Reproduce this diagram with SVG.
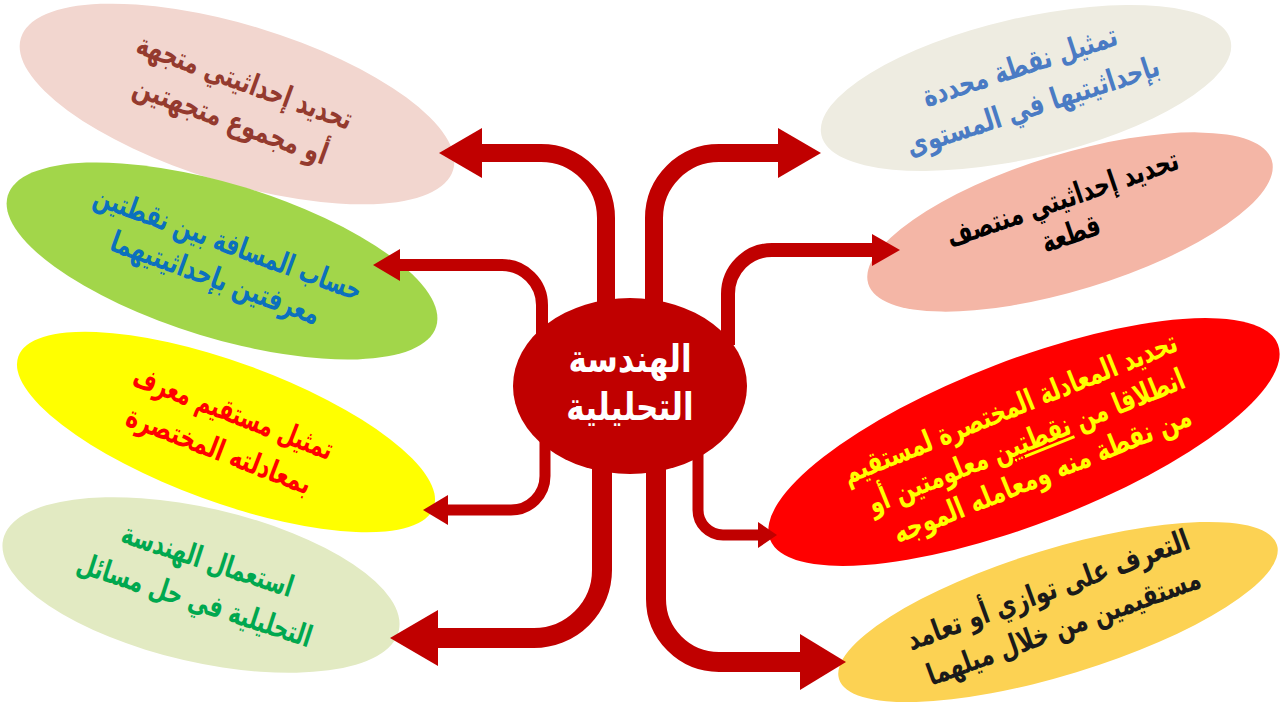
<svg xmlns="http://www.w3.org/2000/svg" width="1280" height="720" viewBox="0 0 1280 720">
<style>
.t{font-family:"DejaVu Sans",sans-serif;font-weight:bold;text-anchor:middle;font-size:30px}
.c{font-family:"DejaVu Sans",sans-serif;font-weight:bold;text-anchor:middle;font-size:38px;fill:#FFFFFF}
.sh{fill:none;stroke:#C00000;stroke-linejoin:round}
.hd{fill:#C00000}
</style>
<rect width="1280" height="720" fill="#FFFFFF"/>
<g id="node-vector">
<ellipse cx="0" cy="0" rx="226" ry="79" transform="translate(237,104) rotate(17)" fill="#F2D6CF"/>
<g transform="translate(237,103) rotate(20)" fill="#943A2E">
<text class="t" y="-12.5" transform="scale(0.72,1)">تحديد إحداثيتي متجهة</text>
<text class="t" y="28.5" transform="scale(0.75,1)">أو مجموع متجهتين</text>
</g>
</g>
<g id="node-distance">
<ellipse cx="0" cy="0" rx="224" ry="77" transform="translate(222,261) rotate(17)" fill="#A2D64A"/>
<g transform="translate(221,262.5) rotate(20)" fill="#0B70BE">
<text class="t" y="-10.5" transform="scale(0.69,1)">حساب المسافة بين نقطتين</text>
<text class="t" y="26.5" transform="scale(0.72,1)">معرفتين بإحداثيتيهما</text>
</g>
</g>
<g id="node-line-plot">
<ellipse cx="0" cy="0" rx="221" ry="70" transform="translate(226,432) rotate(20)" fill="#FFFF00"/>
<g transform="translate(225.5,433.5) rotate(21)" fill="#FF0000">
<text class="t" y="-12" transform="scale(0.68,1)">تمثيل مستقيم معرف</text>
<text class="t" y="28" transform="scale(0.73,1)">بمعادلته المختصرة</text>
</g>
</g>
<g id="node-problems">
<ellipse cx="0" cy="0" rx="203" ry="77" transform="translate(201,585) rotate(13)" fill="#E2EAC2"/>
<g transform="translate(200.5,582) rotate(18)" fill="#00A84F">
<text class="t" y="-13" transform="scale(0.70,1)">استعمال الهندسة</text>
<text class="t" y="29" transform="scale(0.70,1)">التحليلية في حل مسائل</text>
</g>
</g>
<g id="node-point">
<ellipse cx="0" cy="0" rx="210" ry="70" transform="translate(1026,88) rotate(-13)" fill="#EEECE1"/>
<g transform="translate(1027,88) rotate(-18)" fill="#4A7BC4">
<text class="t" y="-13" transform="scale(0.74,1)">تمثيل  نقطة محددة</text>
<text class="t" y="29" transform="scale(0.75,1)">بإحداثيتيها  في المستوى</text>
</g>
</g>
<g id="node-midpoint">
<ellipse cx="0" cy="0" rx="211" ry="68" transform="translate(1070,222) rotate(-17)" fill="#F4B6A6"/>
<g transform="translate(1069,217.5) rotate(-19)" fill="#000000">
<text class="t" y="-10" transform="scale(0.73,1)">تحديد إحداثيتي منتصف</text>
<text class="t" x="-5" y="26" transform="scale(0.72,1)">قطعة</text>
</g>
</g>
<g id="node-equation">
<ellipse cx="0" cy="0" rx="272" ry="82" transform="translate(1024,442) rotate(-21)" fill="#FF0000"/>
<g transform="translate(1027,443) rotate(-22)" fill="#FFFF00">
<text class="t" x="-4" y="-29" transform="scale(0.72,1)">تحديد  المعادلة المختصرة لمستقيم</text>
<text class="t" y="8" transform="scale(0.72,1)">انطلاقا من <tspan text-decoration="underline">نقطتين</tspan> معلومتين أو</text>
<text class="t" x="3" y="45" transform="scale(0.74,1)">من نقطة منه ومعامله الموجه</text>
</g>
</g>
<g id="node-parallel">
<ellipse cx="0" cy="0" rx="229" ry="63" transform="translate(1058,612) rotate(-17)" fill="#FCD253"/>
<g transform="translate(1057.5,610) rotate(-20)" fill="#1A1A1A">
<text class="t" x="-3" y="-12" transform="scale(0.75,1)">التعرف على توازي أو تعامد</text>
<text class="t" y="28" transform="scale(0.73,1)">مستقيمين من خلال ميلهما</text>
</g>
</g>
<g id="connectors">
<path class="sh" stroke-width="18" d="M606,320 V218 A65,65 0 0 0 541,153 H480"/>
<polygon class="hd" points="482,128 439,153 482,178"/>
<path class="sh" stroke-width="18" d="M654,320 V218 A65,65 0 0 1 719,153 H780"/>
<polygon class="hd" points="778,128 821,153 778,178"/>
<path class="sh" stroke-width="12" d="M542,340 V305 A40,40 0 0 0 502,265 H398"/>
<polygon class="hd" points="400,249 373,265 400,281"/>
<path class="sh" stroke-width="11" d="M545,430 V476 A34,34 0 0 1 511,510 H446"/>
<polygon class="hd" points="448,495 423,510 448,525"/>
<path class="sh" stroke-width="20" d="M602,450 V570 A68,68 0 0 1 534,638 H436"/>
<polygon class="hd" points="438,610 390,638 438,666"/>
<path class="sh" stroke-width="11" d="M698,440 V510 A25,25 0 0 0 723,535 H760"/>
<polygon class="hd" points="758,522 777,535 758,548"/>
<path class="sh" stroke-width="20" d="M656,450 V599 A63,63 0 0 0 719,662 H802"/>
<polygon class="hd" points="800,634 846,662 800,690"/>
<path class="sh" stroke-width="14" d="M728,345 V294 A44,44 0 0 1 772,250 H874"/>
<polygon class="hd" points="872,234 900,250 872,266"/>
</g>
<g id="node-center">
<ellipse cx="630" cy="386" rx="117" ry="88" fill="#C00000"/>
<text class="c" transform="translate(630,372) scale(0.82,1)">الهندسة</text>
<text class="c" transform="translate(630,420) scale(0.82,1)">التحليلية</text>
</g>
</svg>
